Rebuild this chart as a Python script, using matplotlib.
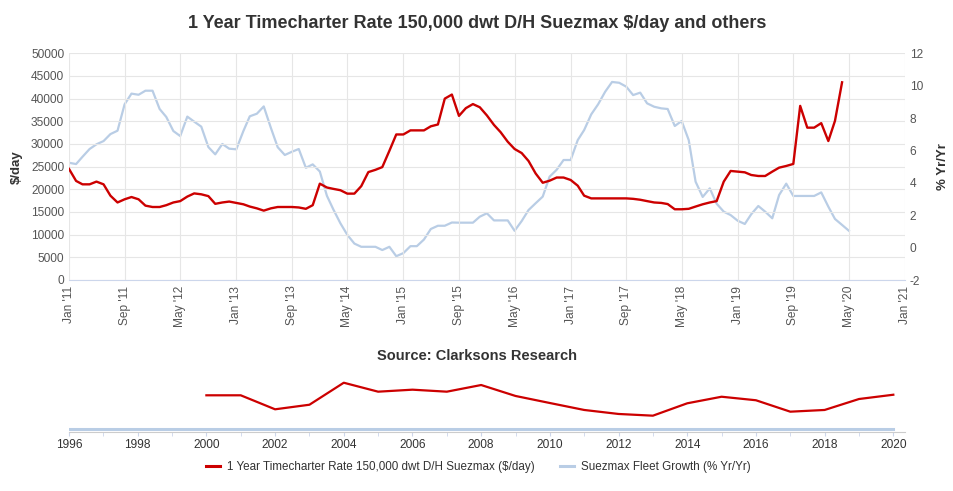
import matplotlib
matplotlib.use("Agg")
import matplotlib.pyplot as plt
import pandas as pd

plt.rcParams['font.family'] = ['Liberation Sans', 'DejaVu Sans']
plt.rcParams['axes.unicode_minus'] = False

# ---------------- data ----------------
start_month = "2011-01-01"
tc_rate = [24500, 21850, 21100, 21100, 21700, 21100, 18600, 17100, 17800, 18300, 17800, 16400,
           16100, 16100, 16500, 17100, 17400, 18400, 19100, 18900, 18500, 16800, 17100, 17300,
           17000, 16700, 16200, 15800, 15300, 15800, 16100, 16100, 16100, 16000, 15700, 16500,
           21250, 20400, 20100, 19800, 19050, 19050, 20700, 23800, 24300, 24900, 28500, 32100,
           32100, 33000, 33000, 33000, 33900, 34300, 40000, 40900, 36200, 37900, 38800, 38100,
           36300, 34200, 32600, 30500, 28900, 28000, 26250, 23500, 21450, 21900, 22600, 22600,
           22060, 20800, 18600, 18000, 18000, 18000, 18000, 18000, 18000, 17900, 17700, 17400,
           17100, 17000, 16750, 15600, 15600, 15700, 16200, 16700, 17100, 17400, 21700, 24050,
           23900, 23750, 23160, 22940, 22940, 23900, 24780, 25150, 25600, 38400, 33600, 33600,
           34600, 30650, 35100, 43600]
fleet_growth = [5.24, 5.16, 5.61, 6.09, 6.38, 6.58, 7.01, 7.22, 8.85, 9.51, 9.44, 9.69,
                9.69, 8.56, 8.07, 7.20, 6.89, 8.09, 7.78, 7.47, 6.21, 5.76, 6.40, 6.11,
                6.07, 7.20, 8.11, 8.27, 8.72, 7.40, 6.20, 5.72, 5.92, 6.09, 4.93, 5.14,
                4.70, 3.20, 2.36, 1.50, 0.79, 0.25, 0.05, 0.05, 0.05, -0.15, 0.05, -0.53,
                -0.34, 0.09, 0.09, 0.50, 1.15, 1.35, 1.35, 1.55, 1.54, 1.54, 1.54, 1.91,
                2.12, 1.68, 1.68, 1.68, 1.04, 1.64, 2.32, 2.74, 3.15, 4.38, 4.81, 5.41,
                5.41, 6.64, 7.26, 8.23, 8.85, 9.63, 10.23, 10.18, 9.94, 9.42, 9.57, 8.91,
                8.70, 8.60, 8.56, 7.51, 7.82, 6.64, 4.07, 3.13, 3.66, 2.71, 2.22, 2.01,
                1.66, 1.46, 2.06, 2.57, 2.22, 1.81, 3.25, 3.95, 3.19, 3.19, 3.19, 3.19,
                3.41, 2.53, 1.77, 1.40, 1.04]

nav_years = [2000, 2001, 2002, 2003, 2004, 2005, 2006, 2007, 2008, 2009, 2010,
             2011, 2012, 2013, 2014, 2015, 2016, 2017, 2018, 2019, 2020]
nav_rate = [35700, 35700, 21000, 25800, 48900, 39500, 41600, 39500, 46500, 35000, 27600,
            20300, 16100, 14300, 27300, 34200, 30500, 18500, 20300, 31800, 36300]
nav_fleet_years = [1996, 2020]
nav_fleet = [0, 0]

left_ticks = list(range(0, 50001, 5000))
right_ticks = list(range(-2, 13, 2))
nav_tick_years = list(range(1996, 2021, 2))

title = "1 Year Timecharter Rate 150,000 dwt D/H Suezmax $/day and others"
source = "Source: Clarksons Research"
name_rate = "1 Year Timecharter Rate 150,000 dwt D/H Suezmax ($/day)"
name_fleet = "Suezmax Fleet Growth (% Yr/Yr)"

RED = "#cc0000"
BLUE = "#b9cde5"
GRID = "#e6e6e6"
LBL = "#555555"
TXT = "#333333"

# ---------------- figure ----------------
W, H = 954, 491
fig = plt.figure(figsize=(W / 100, H / 100), dpi=100)

def rect(x0, y0, x1, y1):
    return [x0 / W, 1 - y1 / H, (x1 - x0) / W, (y1 - y0) / H]

ax = fig.add_axes(rect(69, 53.3, 905, 280))
ax2 = ax.twinx()

dates_rate = pd.date_range(start_month, periods=len(tc_rate), freq="MS")
dates_fleet = pd.date_range(start_month, periods=len(fleet_growth), freq="MS")

l2, = ax2.plot(dates_fleet, fleet_growth, color=BLUE, lw=1.6, zorder=2, label=name_fleet)
l1, = ax.plot(dates_rate, tc_rate, color=RED, lw=1.7, zorder=3, label=name_rate)
ax.set_zorder(ax2.get_zorder() + 1)
ax.patch.set_visible(False)

ax.set_ylim(0, 50000)
ax2.set_ylim(-2, 12)
ax.set_yticks(left_ticks)
ax2.set_yticks(right_ticks)
ax.set_xlim(pd.Timestamp("2011-01-01"), pd.Timestamp("2021-01-01"))
xt = pd.date_range("2011-01-01", "2021-01-01", freq="8MS")
ax.set_xticks(xt)
ax.set_xticklabels([d.strftime("%b '%y") for d in xt], rotation=90, fontsize=8.6, color=LBL)

ax.grid(True, color=GRID, lw=0.8)
ax.set_axisbelow(True)
for a in (ax, ax2):
    for s in a.spines.values():
        s.set_visible(False)
ax.spines['bottom'].set_visible(True)
ax.spines['bottom'].set_color("#ccd6eb")
ax.tick_params(axis='y', length=0, labelsize=8.6, labelcolor=LBL, pad=3.5)
ax2.tick_params(axis='y', length=0, labelsize=8.6, labelcolor=LBL, pad=3.5)
ax.tick_params(axis='x', length=0, pad=4)

ax.set_ylabel("$/day", fontsize=9.5, fontweight='bold', color=TXT, labelpad=6)
ax2.set_ylabel("% Yr/Yr", fontsize=9.5, fontweight='bold', color=TXT, rotation=90, labelpad=10)

fig.text(477 / W, 1 - 24 / H, title, ha='center', va='center', fontsize=13, fontweight='bold', color=TXT)
fig.text(477 / W, 1 - 356 / H, source, ha='center', va='center', fontsize=10.5, fontweight='bold', color=TXT)

# ---------------- navigator ----------------
nav = fig.add_axes(rect(69, 376, 905, 432))
nav.plot(nav_fleet_years, nav_fleet, color=BLUE, lw=2.2, zorder=2)
nav.plot(nav_years, nav_rate, color=RED, lw=1.6, zorder=3)
nav.set_xlim(1996, 2020.34)
nav.set_ylim(-2835, 55965)
nav.set_yticks([])
nav.set_xticks(nav_tick_years)
nav.set_xticks(list(range(1996, 2021)), minor=True)
nav.set_xticklabels([str(y) for y in nav_tick_years], fontsize=8.6, color=TXT)
nav.tick_params(axis='x', which='both', length=3, color="#ccd6eb", direction='out', pad=2)
for s in nav.spines.values():
    s.set_visible(False)
nav.spines['bottom'].set_visible(True)
nav.spines['bottom'].set_color("#cccccc")
nav.patch.set_visible(False)

# ---------------- legend ----------------
fig.legend([l1, l2], [name_rate, name_fleet], loc='center', bbox_to_anchor=(478 / W, 1 - 467 / H),
           ncol=2, frameon=False, fontsize=8.35, handlelength=1.2, columnspacing=2.2,
           handletextpad=0.6, labelcolor=TXT)
for lh in fig.legends[0].get_lines():
    lh.set_linewidth(2.2)

fig.savefig("out.png", dpi=100)
